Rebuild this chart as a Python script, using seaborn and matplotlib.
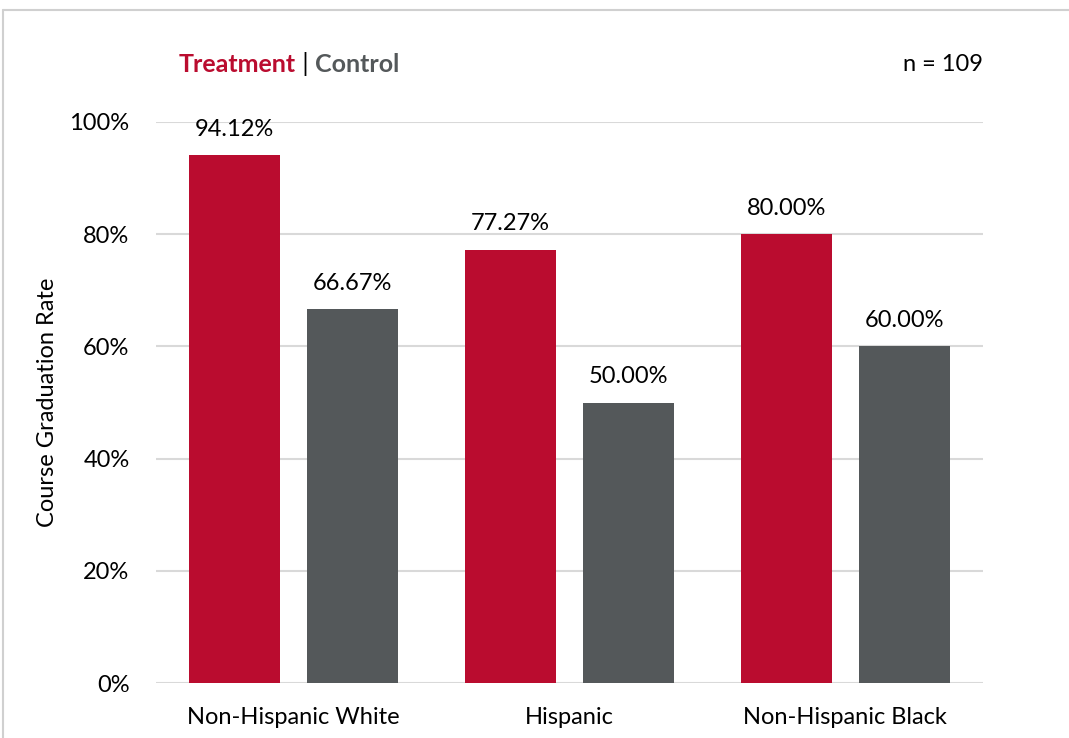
import pandas as pd
import matplotlib.pyplot as plt
import matplotlib.lines as mlines
import seaborn as sns

# --- data ---
groups = ['Non-Hispanic White', 'Hispanic', 'Non-Hispanic Black']
conditions = ['Treatment', 'Control']
treatment_rates = [0.9412, 0.7727, 0.8000]
control_rates = [0.6667, 0.5000, 0.6000]
sample_size = 109

RED = '#BA0C2F'
GRAY = '#54585A'

sns.set_theme(style='white')
plt.rcParams['font.family'] = ['Lato', 'DejaVu Sans']
plt.rcParams['text.color'] = 'black'
plt.rcParams['xtick.color'] = 'black'
plt.rcParams['ytick.color'] = 'black'
plt.rcParams['axes.labelcolor'] = 'black'

df = pd.DataFrame({
    'group': groups * 2,
    'condition': ['Treatment'] * len(groups) + ['Control'] * len(groups),
    'rate': treatment_rates + control_rates,
})

fig = plt.figure(figsize=(10.69, 7.38), dpi=100)
ax = fig.add_axes([0.1459, 0.0745, 0.7736, 0.7602])

sns.barplot(data=df, x='group', y='rate', hue='condition', order=groups,
            hue_order=conditions, palette=[RED, GRAY], saturation=1,
            width=0.855, gap=0.228, linewidth=0, legend=False, ax=ax, zorder=3)

ax.set_ylim(0, 1)
ax.set_xlim(-0.5, 2.5)
ax.set_yticks([0, 0.2, 0.4, 0.6, 0.8, 1.0])
ax.set_yticklabels(['0%', '20%', '40%', '60%', '80%', '100%'], fontsize=17)
ax.tick_params(axis='y', length=0, pad=19)
ax.tick_params(axis='x', length=0, labelsize=17, pad=17)
ax.yaxis.grid(True, color='#D9D9D9', linewidth=1.5, zorder=0)
ax.set_axisbelow(True)
for s in ax.spines.values():
    s.set_visible(False)
ax.set_xlabel('')
ax.set_ylabel('Course Graduation Rate', fontsize=17)
ax.yaxis.set_label_coords(-0.118, 0.5)

# value labels
for cont in ax.containers:
    ax.bar_label(cont, labels=[f'{v * 100:.2f}%' for v in cont.datavalues],
                 padding=11, fontsize=17)

# legend built as colored text
t1 = fig.text(0.1674, 0.913, 'Treatment', color=RED, fontsize=18,
              fontweight='bold', va='center')
t2 = ax.annotate(' | ', xy=(1, 0.5), xycoords=t1, va='center', ha='left',
                 fontsize=18, color='black')
ax.annotate('Control', xy=(1, 0.5), xycoords=t2, va='center', ha='left',
            fontsize=18, fontweight='bold', color=GRAY)
fig.text(0.9196, 0.913, f'n = {sample_size}', fontsize=17, ha='right', va='center')

# frame border
fig.add_artist(mlines.Line2D([0.003, 1.0], [0.987, 0.987], color='#D0D0D0', lw=1.5))
fig.add_artist(mlines.Line2D([0.003, 0.003], [0.0, 0.987], color='#D0D0D0', lw=1.5))

fig.savefig('out.png', dpi=100)
